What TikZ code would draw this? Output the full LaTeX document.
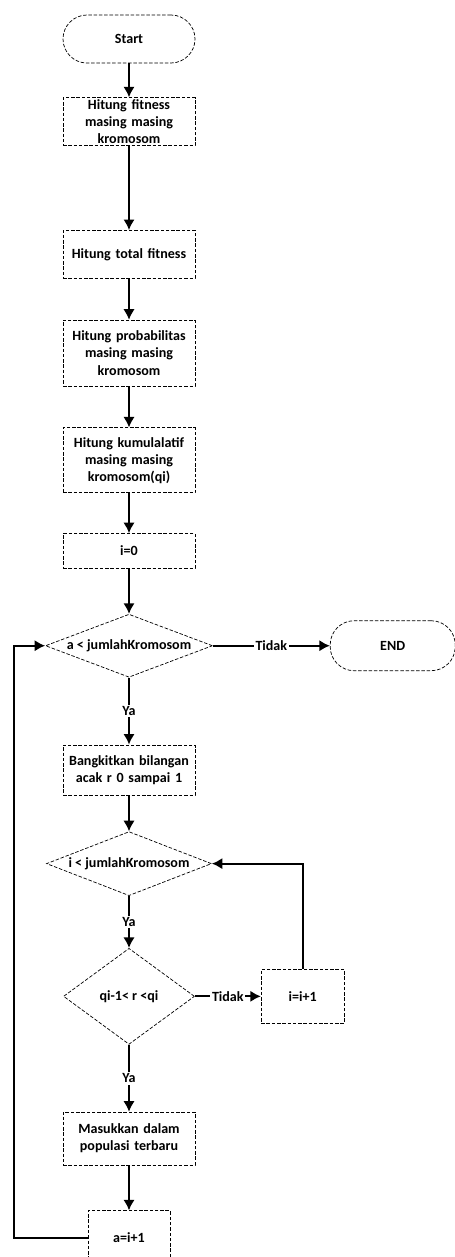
\documentclass[tikz,border=0pt]{standalone}
\usepackage{fontspec}
\setmainfont{Carlito}
\usetikzlibrary{shapes, arrows.meta, positioning}

\begin{document}
\begin{tikzpicture}[
          node distance=1cm,
          font=\fontsize{8}{9.7}\selectfont\bfseries,
          terminal/.style={rectangle, draw, dash pattern=on 2pt off 1pt, rounded corners=0.48cm, minimum width=2.64cm, minimum height=0.96cm},
          process/.style={rectangle, draw, dash pattern=on 2pt off 1pt, text width=2.44cm, inner xsep=0.1cm, inner ysep=0pt, align=center, minimum height=0.96cm},
          decision/.style={diamond, draw, dash pattern=on 2pt off 1pt, inner sep=0pt, shape aspect=2.7, minimum width=3.34cm, minimum height=1.26cm},
          arrow/.style={-{Latex[length=6pt, width=6.5pt]}, line width=1.1pt},
          lbl/.style={fill=white, inner sep=1pt}
        ]
          \useasboundingbox (0,0) rectangle (9.08,-25.14);

          \node (start) [terminal] at (2.58,-0.78) {Start};
          \node (fit_each) [process, below=0.68cm of start] {Hitung fitness\\masing masing\\kromosom};
          \node (fit_total) [process, below=1.68cm of fit_each] {Hitung total fitness};
          \node (prob) [process, below=0.82cm of fit_total, minimum height=1.32cm] {Hitung probabilitas\\masing masing\\kromosom};
          \node (cum) [process, below=0.82cm of prob, minimum height=1.3cm] {Hitung kumulalatif\\masing masing\\kromosom(qi)};
          \node (init_i) [process, below=0.8cm of cum, minimum height=0.7cm] {i=0};

          \node (cond_a) [decision, below=0.9cm of init_i] {a < jumlahKromosom};
          \node (end) [terminal, right=2.34cm of cond_a, minimum width=2.5cm, minimum height=1cm] {END};

          \node (rand_r) [process, below=1.34cm of cond_a, minimum height=1cm] {Bangkitkan bilangan\\acak r 0 sampai 1};
          \node (cond_i) [decision, below=0.72cm of rand_r, minimum width=3.3cm, minimum height=1.28cm] {i < jumlahKromosom};
          \node (cond_q) [decision, below=1.04cm of cond_i, shape aspect=1.4, minimum width=2.62cm, minimum height=1.92cm] {qi-1< r <qi};
          \node (inc_i) [process, right=1.32cm of cond_q, text width=1.46cm, minimum height=1.08cm] {i=i+1};

          \node (insert) [process, below=1.34cm of cond_q, minimum height=1.06cm] {Masukkan dalam\\populasi terbaru};
          \node (inc_a) [process, below=0.9cm of insert, text width=1.44cm, minimum height=1.08cm] {a=i+1};

          \draw [arrow] (start) -- (fit_each);
          \draw [arrow] (fit_each) -- (fit_total);
          \draw [arrow] (fit_total) -- (prob);
          \draw [arrow] (prob) -- (cum);
          \draw [arrow] (cum) -- (init_i);
          \draw [arrow] (init_i) -- (cond_a);
          \draw [arrow] (cond_a) -- node[lbl] {Tidak} (end);
          \draw [arrow] (cond_a) -- node[lbl] {Ya} (rand_r);
          \draw [arrow] (rand_r) -- (cond_i);
          \draw [arrow] (cond_i) -- node[lbl] {Ya} (cond_q);
          \draw [arrow] (cond_q) -- node[lbl] {Tidak} (inc_i);
          \draw [arrow] (inc_i) |- (cond_i);
          \draw [arrow] (cond_q) -- node[lbl] {Ya} (insert);
          \draw [arrow] (insert) -- (inc_a);
          \draw [arrow] (inc_a.west) -- ++(-1.48,0) |- (cond_a.west);
        \end{tikzpicture}
\end{document}
